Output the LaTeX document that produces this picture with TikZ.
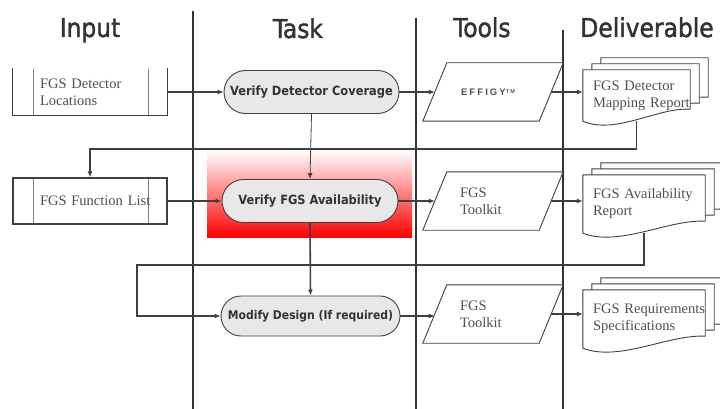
\documentclass[tikz,border=0pt]{standalone}
\usepackage{fontspec}
\setmainfont{Liberation Serif}
\newfontfamily\headfont[FakeBold=1.6]{DejaVu Sans Condensed}
\newfontfamily\taskfont{DejaVu Sans Condensed}
\newfontfamily\effifont[LetterSpace=22]{Liberation Sans}
\usetikzlibrary{arrows.meta,calc,backgrounds,shapes.misc}
\hyphenpenalty=10000
\exhyphenpenalty=10000
\definecolor{linegray}{RGB}{64,64,64}
\definecolor{textgray}{RGB}{80,80,80}
\definecolor{termfill}{RGB}{232,232,232}
\tikzset{
    heading/.style={anchor=base,font=\headfont\fontsize{26}{30}\selectfont,text=black!80},
    inbox/.style={draw=linegray,line width=1.2pt,minimum width=154pt,minimum height=46pt,
        text width=100pt,align=left,inner sep=0pt,font=\fontsize{14.5}{17}\selectfont,text=textgray,
        path picture={\draw[black!50,line width=0.9pt]
            ([xshift=20pt]path picture bounding box.north west) -- ([xshift=20pt]path picture bounding box.south west)
            ([xshift=-19pt]path picture bounding box.north east) -- ([xshift=-19pt]path picture bounding box.south east);}},
    boxline/.style={draw=linegray,line width=1.2pt},
    task/.style={rounded rectangle,draw=linegray,fill=termfill,line width=0.9pt,minimum height=43pt,
        inner xsep=4pt,font=\taskfont\bfseries\fontsize{12.7}{14}\selectfont,text=black!80},
    tool/.style={minimum width=116pt,minimum height=58pt,inner sep=0pt,
        font=\fontsize{14.5}{17}\selectfont,text=textgray},
    toolkit/.style={tool,text width=66pt,align=left},
    slant/.style={draw=linegray,line width=0.9pt},
    report/.style={inner sep=0pt,align=left,font=\fontsize{14.5}{17}\selectfont,text=textgray},
    page/.style={draw=linegray,line width=0.9pt,fill=white},
    flow/.style={draw=linegray,line width=1.6pt,-{Latex[length=6pt,width=5pt]}},
    thinflow/.style={draw=linegray,line width=0.8pt,-{Latex[length=6pt,width=5pt]}},
    column/.style={draw=black!80,line width=1.4pt}
}
% parallelogram round a tool node
\newcommand{\slantbox}[1]{%
    \draw[slant] ($(#1.south west)+(-12,0)$) -- ($(#1.north west)+(12,0)$)
        -- ($(#1.north east)+(12,0)$) -- ($(#1.south east)+(-12,0)$) -- cycle;}
% one sheet of a document stack, shifted by (#2,#3) from node #1
\newcommand{\docpage}[3]{%
    \path[page] ($(#1.north west)+(#2,#3)$) -- ($(#1.north east)+(#2,#3)$)
        -- ($(#1.south east)+(#2,#3-12)$)
        .. controls ($(#1.south east)!0.3!(#1.south west)+(#2,#3-14)$)
        and ($(#1.south east)!0.7!(#1.south west)+(#2,#3+14)$) .. ($(#1.south west)+(#2,#3)$) -- cycle;}

\begin{document}
\begin{tikzpicture}[x=1pt,y=-1pt]
\useasboundingbox (0,0) rectangle (720,409);

% headings
\node[heading] (hinput) at (90,37) {Input};
\node[heading] (htask)  at (298,38) {Task};
\node[heading] (htools) at (482,37) {Tools};
\node[heading] (hdeliv) at (647,37) {Deliverable};

% inputs
\node[inbox,draw=none] (loc) at (90,92) {FGS Detector\\ Locations};
\draw[boxline] (loc.north west) -- (loc.south west) -- (loc.south east) -- (loc.north east);
\node[inbox] (funlist) at (90,201) {FGS~Function~List};

% tasks
\node[task,minimum width=183pt] (verdet) at (311.5,92) {Verify Detector Coverage};
\node[task,minimum width=184pt] (verfgs) at (310,201) {Verify FGS Availability};
\node[task,minimum width=187pt,minimum height=40pt,font=\taskfont\bfseries\fontsize{12}{14}\selectfont] (modify) at (310.5,316) {Modify Design (If required)};

% tools
\node[tool] (effigy) at (493,92) {\hspace{-10pt}\effifont\bfseries\fontsize{9.5}{10}\selectfont EFFIGY\raisebox{2pt}{\fontsize{5.5}{6}\selectfont TM}};
\node[toolkit] (kit1) at (493,201) {FGS\\ Toolkit};
\node[toolkit] (kit2) at (493,314) {FGS\\ Toolkit};
\slantbox{effigy}
\slantbox{kit1}
\slantbox{kit2}

% deliverables
\node[report,minimum width=107pt,minimum height=51pt,text width=87pt] (rep1) at (636.5,95.5) {FGS Detector\\ Mapping~Report};
\node[report,minimum width=122pt,minimum height=58pt,text width=102pt] (rep2) at (644,204) {FGS Availability\\ Report};
\node[report,minimum width=122pt,minimum height=58pt,text width=102pt] (rep3) at (644,319) {FGS~Requirements\\ Specifications};

\begin{scope}[on background layer]
    \fill[white] (0,0) rectangle (720,409);
    \draw[column] (193,11) -- (193,409);
    \draw[column] (416,18) -- (416,409);
    \draw[column] (563,30) -- (563,409);
    \shade[top color=white,bottom color=red] (207,150) rectangle (412,237);
    \foreach \r in {rep1,rep2,rep3} {
        \docpage{\r}{18}{-12}
        \docpage{\r}{9}{-6}
        \docpage{\r}{0}{0}
    }
\end{scope}

% connectors
\draw[flow] (loc.east) -- (verdet.west);
\draw[flow] (funlist.east) -- (verfgs.west);
\draw[thinflow] (verdet.south) -- (verfgs.north);
\draw[flow] (verfgs.south) -- (modify.north);
\draw[flow] (verdet.east) -- (effigy.west);
\draw[flow] (verfgs.east) -- (kit1.west);
\draw[flow] (modify.east) -- (modify.east -| kit2.west);
\draw[flow] (effigy.east) -- (effigy.east -| rep1.west);
\draw[flow] (kit1.east) -- (kit1.east -| rep2.west);
\draw[flow] (kit2.east) -- (kit2.east -| rep3.west);

\coordinate (turn1) at (90,149);
\draw[flow] (rep1.south) |- (turn1) -- (funlist.north);
\coordinate (turn2) at (137,265);
\draw[flow] (rep2.south) |- (turn2) |- (modify.west);

\end{tikzpicture}
\end{document}
